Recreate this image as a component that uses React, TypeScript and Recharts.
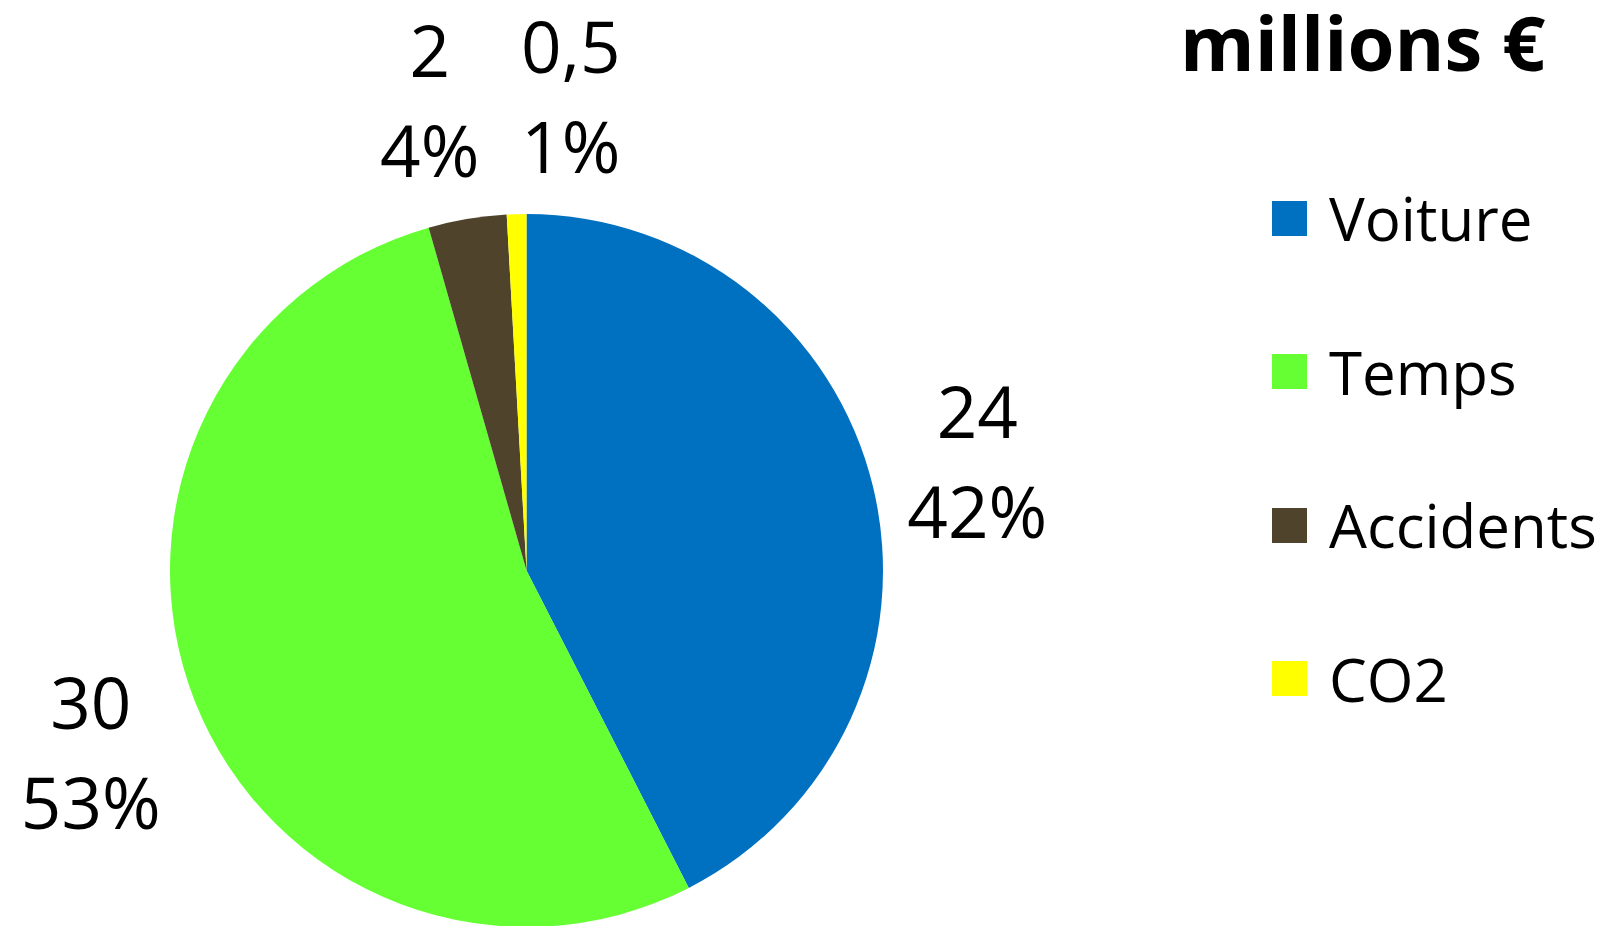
import React from 'react';
import { PieChart, Pie, Cell, Legend } from 'recharts';

const categories = ['Voiture', 'Temps', 'Accidents', 'CO2'];
const values = [24, 30, 2, 0.5];
const colors = ['#0070C0', '#66FF33', '#4F432B', '#FFFF00'];
const title = 'millions €';

const data = categories.map((name, i) => ({ name, value: values[i] }));
const total = values.reduce((a, b) => a + b, 0);

const FONT = '"Open Sans", "Noto Sans", sans-serif';
const RAD = Math.PI / 180;
// label nudges (style only)
const labelNudge = [
  [7, 24],
  [-11, 41],
  [-21, 7],
  [57, 9],
];

const fmt = (v: number) => String(v).replace('.', ',');

const renderLabel = (props: any) => {
  const { cx, cy, midAngle, outerRadius, index, value } = props;
  const r = outerRadius + 100;
  const x = cx + r * Math.cos(-midAngle * RAD) + labelNudge[index][0];
  const y = cy + r * Math.sin(-midAngle * RAD) + labelNudge[index][1];
  const pct = Math.round((value / total) * 100);
  return (
    <text
      x={x}
      y={y}
      textAnchor="middle"
      fontFamily={FONT}
      fontSize={71}
      fill="#000"
    >
      <tspan x={x} y={y - 50}>{fmt(value)}</tspan>
      <tspan x={x} y={y + 50}>{pct + '%'}</tspan>
    </text>
  );
};

const LegendContent = (props: any) => {
  const payload = [...(props.payload || [])].sort(
    (a: any, b: any) => categories.indexOf(a.value) - categories.indexOf(b.value)
  );
  return (
    <div style={{ position: 'relative', width: 330, height: 560 }}>
      {payload.map((entry: any, i: number) => (
        <div
          key={entry.value}
          style={{
            position: 'absolute',
            left: 0,
            top: i * 153.5,
            height: 40,
            display: 'flex',
            alignItems: 'center',
          }}
        >
          <div style={{ width: 35, height: 35, background: entry.color }} />
          <span
            style={{
              marginLeft: 22,
              fontFamily: FONT,
              fontSize: 60,
              color: '#000',
              lineHeight: '40px',
              whiteSpace: 'nowrap',
            }}
          >
            {entry.value}
          </span>
        </div>
      ))}
    </div>
  );
};

export default function App() {
  return (
    <div
      style={{
        position: 'absolute',
        left: 0,
        top: 0,
        width: 1615,
        height: 926,
        background: '#fff',
        overflow: 'hidden',
      }}
    >
      <div
        style={{
          position: 'absolute',
          left: 1180,
          top: 0,
          fontFamily: FONT,
          fontWeight: 700,
          fontSize: 76,
          lineHeight: '84px',
          color: '#000',
          whiteSpace: 'nowrap',
        }}
      >
        {title}
      </div>
      <PieChart width={1615} height={926} margin={{ top: 0, right: 0, bottom: 0, left: 0 }}>
        <Pie
          data={data}
          dataKey="value"
          nameKey="name"
          cx={526.5}
          cy={570.5}
          outerRadius={356.5}
          startAngle={90}
          endAngle={-270}
          stroke="none"
          label={renderLabel}
          labelLine={false}
          isAnimationActive={false}
        >
          {data.map((d, i) => (
            <Cell key={d.name} fill={colors[i]} />
          ))}
        </Pie>
        <Legend
          layout="vertical"
          content={<LegendContent />}
          wrapperStyle={{ position: 'absolute', left: 1272, top: 198, width: 340 }}
        />
      </PieChart>
    </div>
  );
}
